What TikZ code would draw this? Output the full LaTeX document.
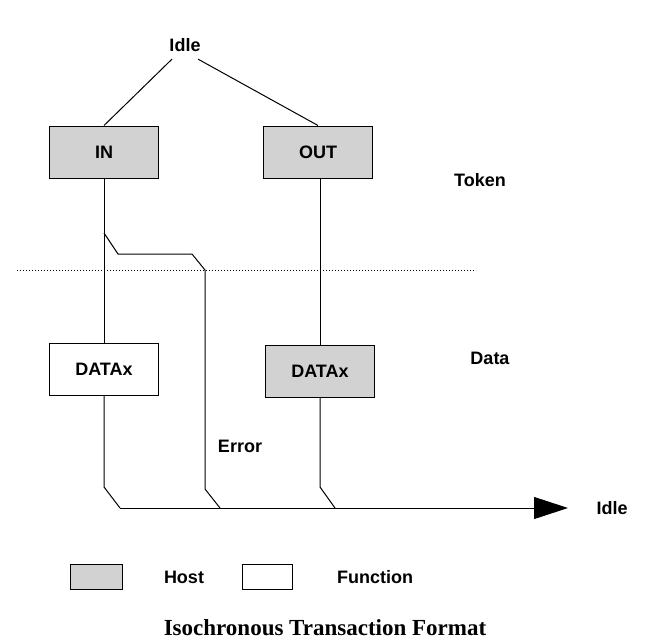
\documentclass[tikz,border=0pt]{standalone}
\usepackage{fontspec}
\setmainfont{Liberation Sans}
\newfontfamily\titlefont{Liberation Serif}
\usetikzlibrary{arrows.meta}
\begin{document}
\begin{tikzpicture}[x=1pt,y=-1pt,
  box/.style={draw,line width=1pt,minimum width=109pt,minimum height=52pt,inner sep=0pt,font=\bfseries\fontsize{18}{20}\selectfont},
  host/.style={box,fill=gray!35},
  func/.style={box,fill=white},
  lbl/.style={font=\bfseries\fontsize{18}{20}\selectfont},
  ln/.style={line width=1pt}]
\useasboundingbox (0,0) rectangle (648,640);
\node[lbl] (idle1) at (185,45) {Idle};
\node[host] (in) at (104,152) {IN};
\node[host] (out) at (318,152) {OUT};
\node[lbl] (token) at (480,180) {Token};
\node[func] (d1) at (104,369) {DATAx};
\node[host] (d2) at (320,371) {DATAx};
\node[lbl] (data) at (490,358) {Data};
\node[lbl] (err) at (240,446) {Error};
\node[lbl] (idle2) at (612,508) {Idle};
\coordinate (aend) at (568,508);
\draw[ln] (idle1.south west) ++(6,4) -- (in.north);
\draw[ln] (idle1.south east) ++(-6,4) -- (out.north);
\draw[dotted,line width=1pt] (17,270) -- (476,270);
\draw[ln] (in.south) -- (d1.north);
\draw[ln] (104,233) -- (118,254) -- (192,254) -- (205,270) -- (205,489) -- (220,508);
\draw[ln] (d1.south) -- (104,487) -- (120,508);
\draw[ln] (320,178) -- (d2.north);
\draw[ln] (d2.south) -- (320,487) -- (335,508);
\draw[ln,-{Triangle[length=34pt,width=22pt]}] (120,508) -- (aend);
\node[draw,line width=1pt,fill=gray!35,minimum width=52pt,minimum height=25pt] (hb) at (96,577) {};
\node[lbl] (ht) at (184,577) {Host};
\node[draw,line width=1pt,fill=white,minimum width=50pt,minimum height=25pt] (fb) at (267,577) {};
\node[lbl] (ft) at (375,577) {Function};
\node[font=\titlefont\bfseries\fontsize{23}{26}\selectfont] (title) at (325,628) {Isochronous Transaction Format};
\end{tikzpicture}
\end{document}
